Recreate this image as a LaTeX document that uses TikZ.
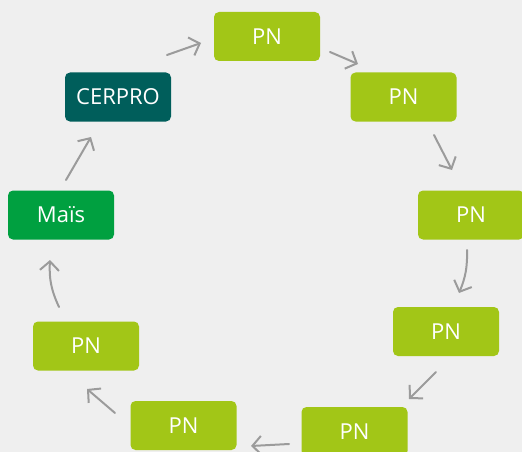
\documentclass[tikz,border=0pt]{standalone}
\usepackage{fontspec}
\setmainfont{Open Sans}
\usetikzlibrary{arrows.meta}
\definecolor{bg}{HTML}{EFEFEF}
\definecolor{lime}{HTML}{A2C617}
\definecolor{teal}{HTML}{005E5B}
\definecolor{mais}{HTML}{00A040}
\definecolor{arr}{HTML}{9B9B9B}
\begin{document}
\begin{tikzpicture}[x=1pt,y=-1pt,
  box/.style={rectangle, rounded corners=5pt, minimum width=106pt, minimum height=49pt,
    inner sep=0pt, text=white, font=\fontsize{22}{26}\selectfont},
  pn/.style={box, fill=lime},
  flow/.style={draw=arr, line width=2pt, line cap=round,
    -{Straight Barb[length=9pt,width=19pt,line width=2pt]}}]
\fill[bg] (0,0) rectangle (522,452);
\useasboundingbox (0,0) rectangle (522,452);
\node[box, fill=teal] (cerpro) at (118,97) {CERPRO};
\node[box, fill=mais] (mais) at (61,215) {Maïs};
\node[pn] (pn1) at (267,36.5) {PN};
\node[pn] (pn2) at (403.5,97) {PN};
\node[pn] (pn3) at (471,215) {PN};
\node[pn] (pn4) at (446,331.5) {PN};
\node[pn] (pn5) at (354.5,431.5) {PN};
\node[pn] (pn6) at (183.5,425.5) {PN};
\node[pn] (pn7) at (86,346) {PN};
% arrow end points
\coordinate (a1s) at (167,55);  \coordinate (a1e) at (201,43);
\coordinate (a2s) at (330,52);  \coordinate (a2e) at (358,64);
\coordinate (a3s) at (434,135); \coordinate (a3e) at (452,170);
\coordinate (a4s) at (467,250); \coordinate (a4e) at (459,293);
\coordinate (a5s) at (436,372); \coordinate (a5e) at (409,399);
\coordinate (a6s) at (289,444); \coordinate (a6e) at (251,446);
\coordinate (a7s) at (115,413); \coordinate (a7e) at (87,389);
\coordinate (a8s) at (59,307);  \coordinate (a8e) at (50,260);
\coordinate (a9s) at (66,180);  \coordinate (a9e) at (91,137);
\draw[flow] (a1s) -- (a1e);
\draw[flow] (a2s) -- (a2e);
\draw[flow] (a3s) -- (a3e);
\draw[flow] (a4s) to[bend left=12] (a4e);
\draw[flow] (a5s) -- (a5e);
\draw[flow] (a6s) -- (a6e);
\draw[flow] (a7s) -- (a7e);
\draw[flow] (a8s) to[bend left=14] (a8e);
\draw[flow] (a9s) -- (a9e);
\end{tikzpicture}
\end{document}
